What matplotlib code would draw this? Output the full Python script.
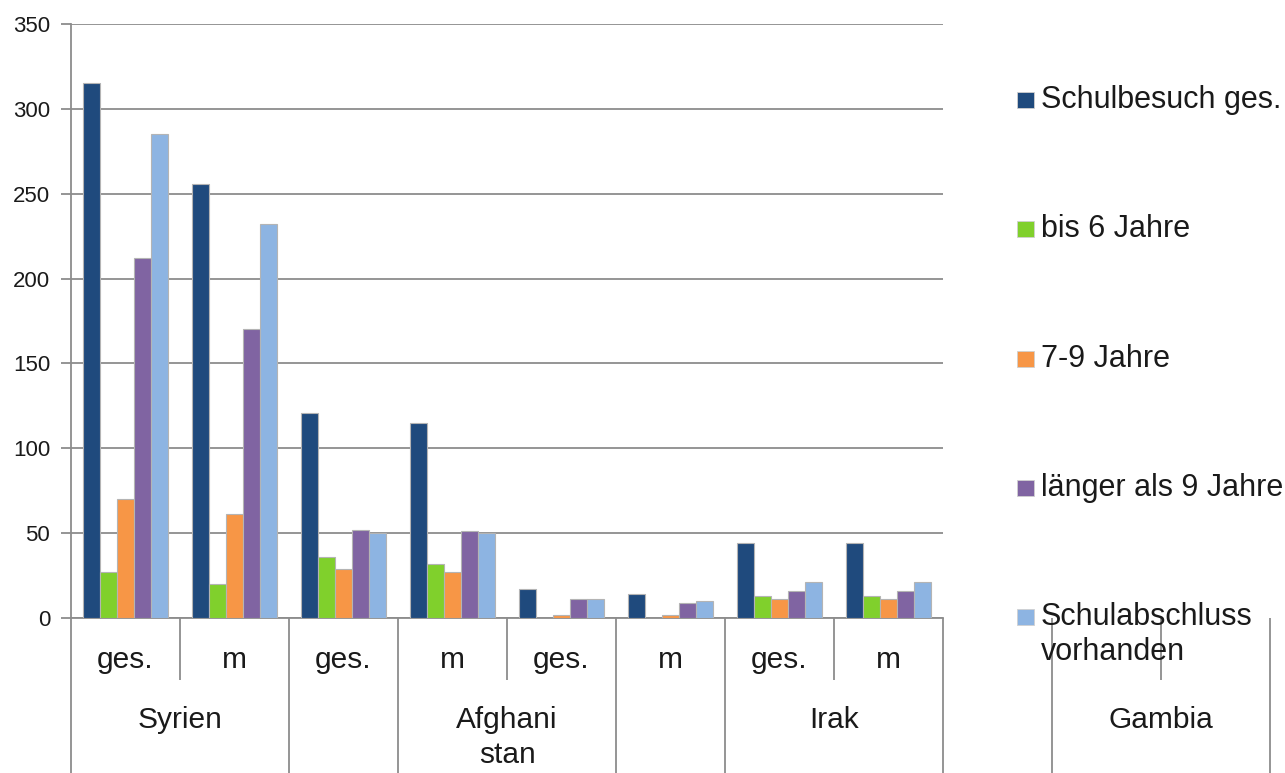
import numpy as np
import matplotlib
matplotlib.use("Agg")
import matplotlib.pyplot as plt
from matplotlib.patches import Rectangle

plt.rcParams['font.family'] = ['Liberation Sans', 'DejaVu Sans']

# Schulbildung nach Herkunftsland (ges. = gesamt, m = männlich)
inner_labels = ["ges.", "m", "ges.", "m", "ges.", "m", "ges.", "m"]
outer_groups = [("Syrien", 0, 1), ("Afghani\nstan", 3, 4), ("Irak", 6, 7), ("Gambia", 9, 10)]

series_names = ["Schulbesuch ges.", "bis 6 Jahre", "7-9 Jahre",
                "länger als 9 Jahre", "Schulabschluss\nvorhanden"]
schulbesuch = [315, 256, 121, 115, 17, 14, 44, 44]
bis_6 = [27, 20, 36, 32, 0, 0, 13, 13]
jahre_7_9 = [70, 61, 29, 27, 2, 2, 11, 11]
laenger_9 = [212, 170, 52, 51, 11, 9, 16, 16]
abschluss = [285, 232, 50, 50, 11, 10, 21, 21]
colors = ["#1f4a7d", "#80d02c", "#f79646", "#8064a2", "#8db4e2"]

values = [schulbesuch, bis_6, jahre_7_9, laenger_9, abschluss]

W, H = 1285, 773
fig = plt.figure(figsize=(W / 100, H / 100), dpi=100)
ax = fig.add_axes([71 / W, 1 - 618 / H, (943 - 71) / W, (618 - 24) / H])

grid_c = "#8c8c8c"
text_c = "#1a1a1a"
x = np.arange(len(inner_labels))
bw = 0.156
for i, (vals, c) in enumerate(zip(values, colors)):
    ax.bar(x + (i - 2) * bw, vals, bw, color=c, edgecolor="#b4b4b4",
           linewidth=0.8, zorder=3)

ax.set_xlim(-0.5, len(inner_labels) - 0.5)
ax.set_ylim(0, 350)
ax.set_yticks(np.arange(0, 351, 50))
ax.yaxis.grid(True, color=grid_c, linewidth=1.3)
ax.set_axisbelow(True)
ax.tick_params(axis="y", length=7, width=1.3, color=grid_c, pad=8,
               labelsize=16, labelcolor=text_c)
ax.set_xticks([])
for s in ["top", "right"]:
    ax.spines[s].set_visible(False)
for s in ["left", "bottom"]:
    ax.spines[s].set_color(grid_c)
    ax.spines[s].set_linewidth(1.3)

plot_h = 618 - 24
line_step = 35  # px between baselines of wrapped labels


def px_to_axes(y_px):
    return -(y_px - 618) / plot_h


# two-level category axis below the plot
xt = ax.get_xaxis_transform()
full_bottom = px_to_axes(H)
short_bottom = px_to_axes(680)
for label, a, b in outer_groups:
    ax.vlines([a - 0.5, b + 0.5], full_bottom, 0, transform=xt, colors=grid_c,
              linewidth=1.3, clip_on=False)
    for k in range(a, b):
        ax.vlines(k + 0.5, short_bottom, 0, transform=xt, colors=grid_c,
                  linewidth=1.3, clip_on=False)
    for j, part in enumerate(label.split("\n")):
        ax.text((a + b) / 2, px_to_axes(728 + j * line_step), part, transform=xt,
                ha="center", va="baseline", fontsize=21.5, color=text_c)
for k, lab in enumerate(inner_labels):
    ax.text(k, px_to_axes(668), lab, transform=xt, ha="center",
            va="baseline", fontsize=21.5, color=text_c)

# legend on the right
for i, (name, c) in enumerate(zip(series_names, colors)):
    base = 108 + i * 129.3
    fig.add_artist(Rectangle((1017 / W, 1 - base / H), 17 / W, 16 / H,
                             transform=fig.transFigure, facecolor=c,
                             edgecolor="#d0d0d0", linewidth=0.6))
    for j, part in enumerate(name.split("\n")):
        fig.text(1041 / W, 1 - (base + j * line_step) / H, part, ha="left",
                 va="baseline", fontsize=22, color=text_c)

fig.savefig("out.png", dpi=100)
